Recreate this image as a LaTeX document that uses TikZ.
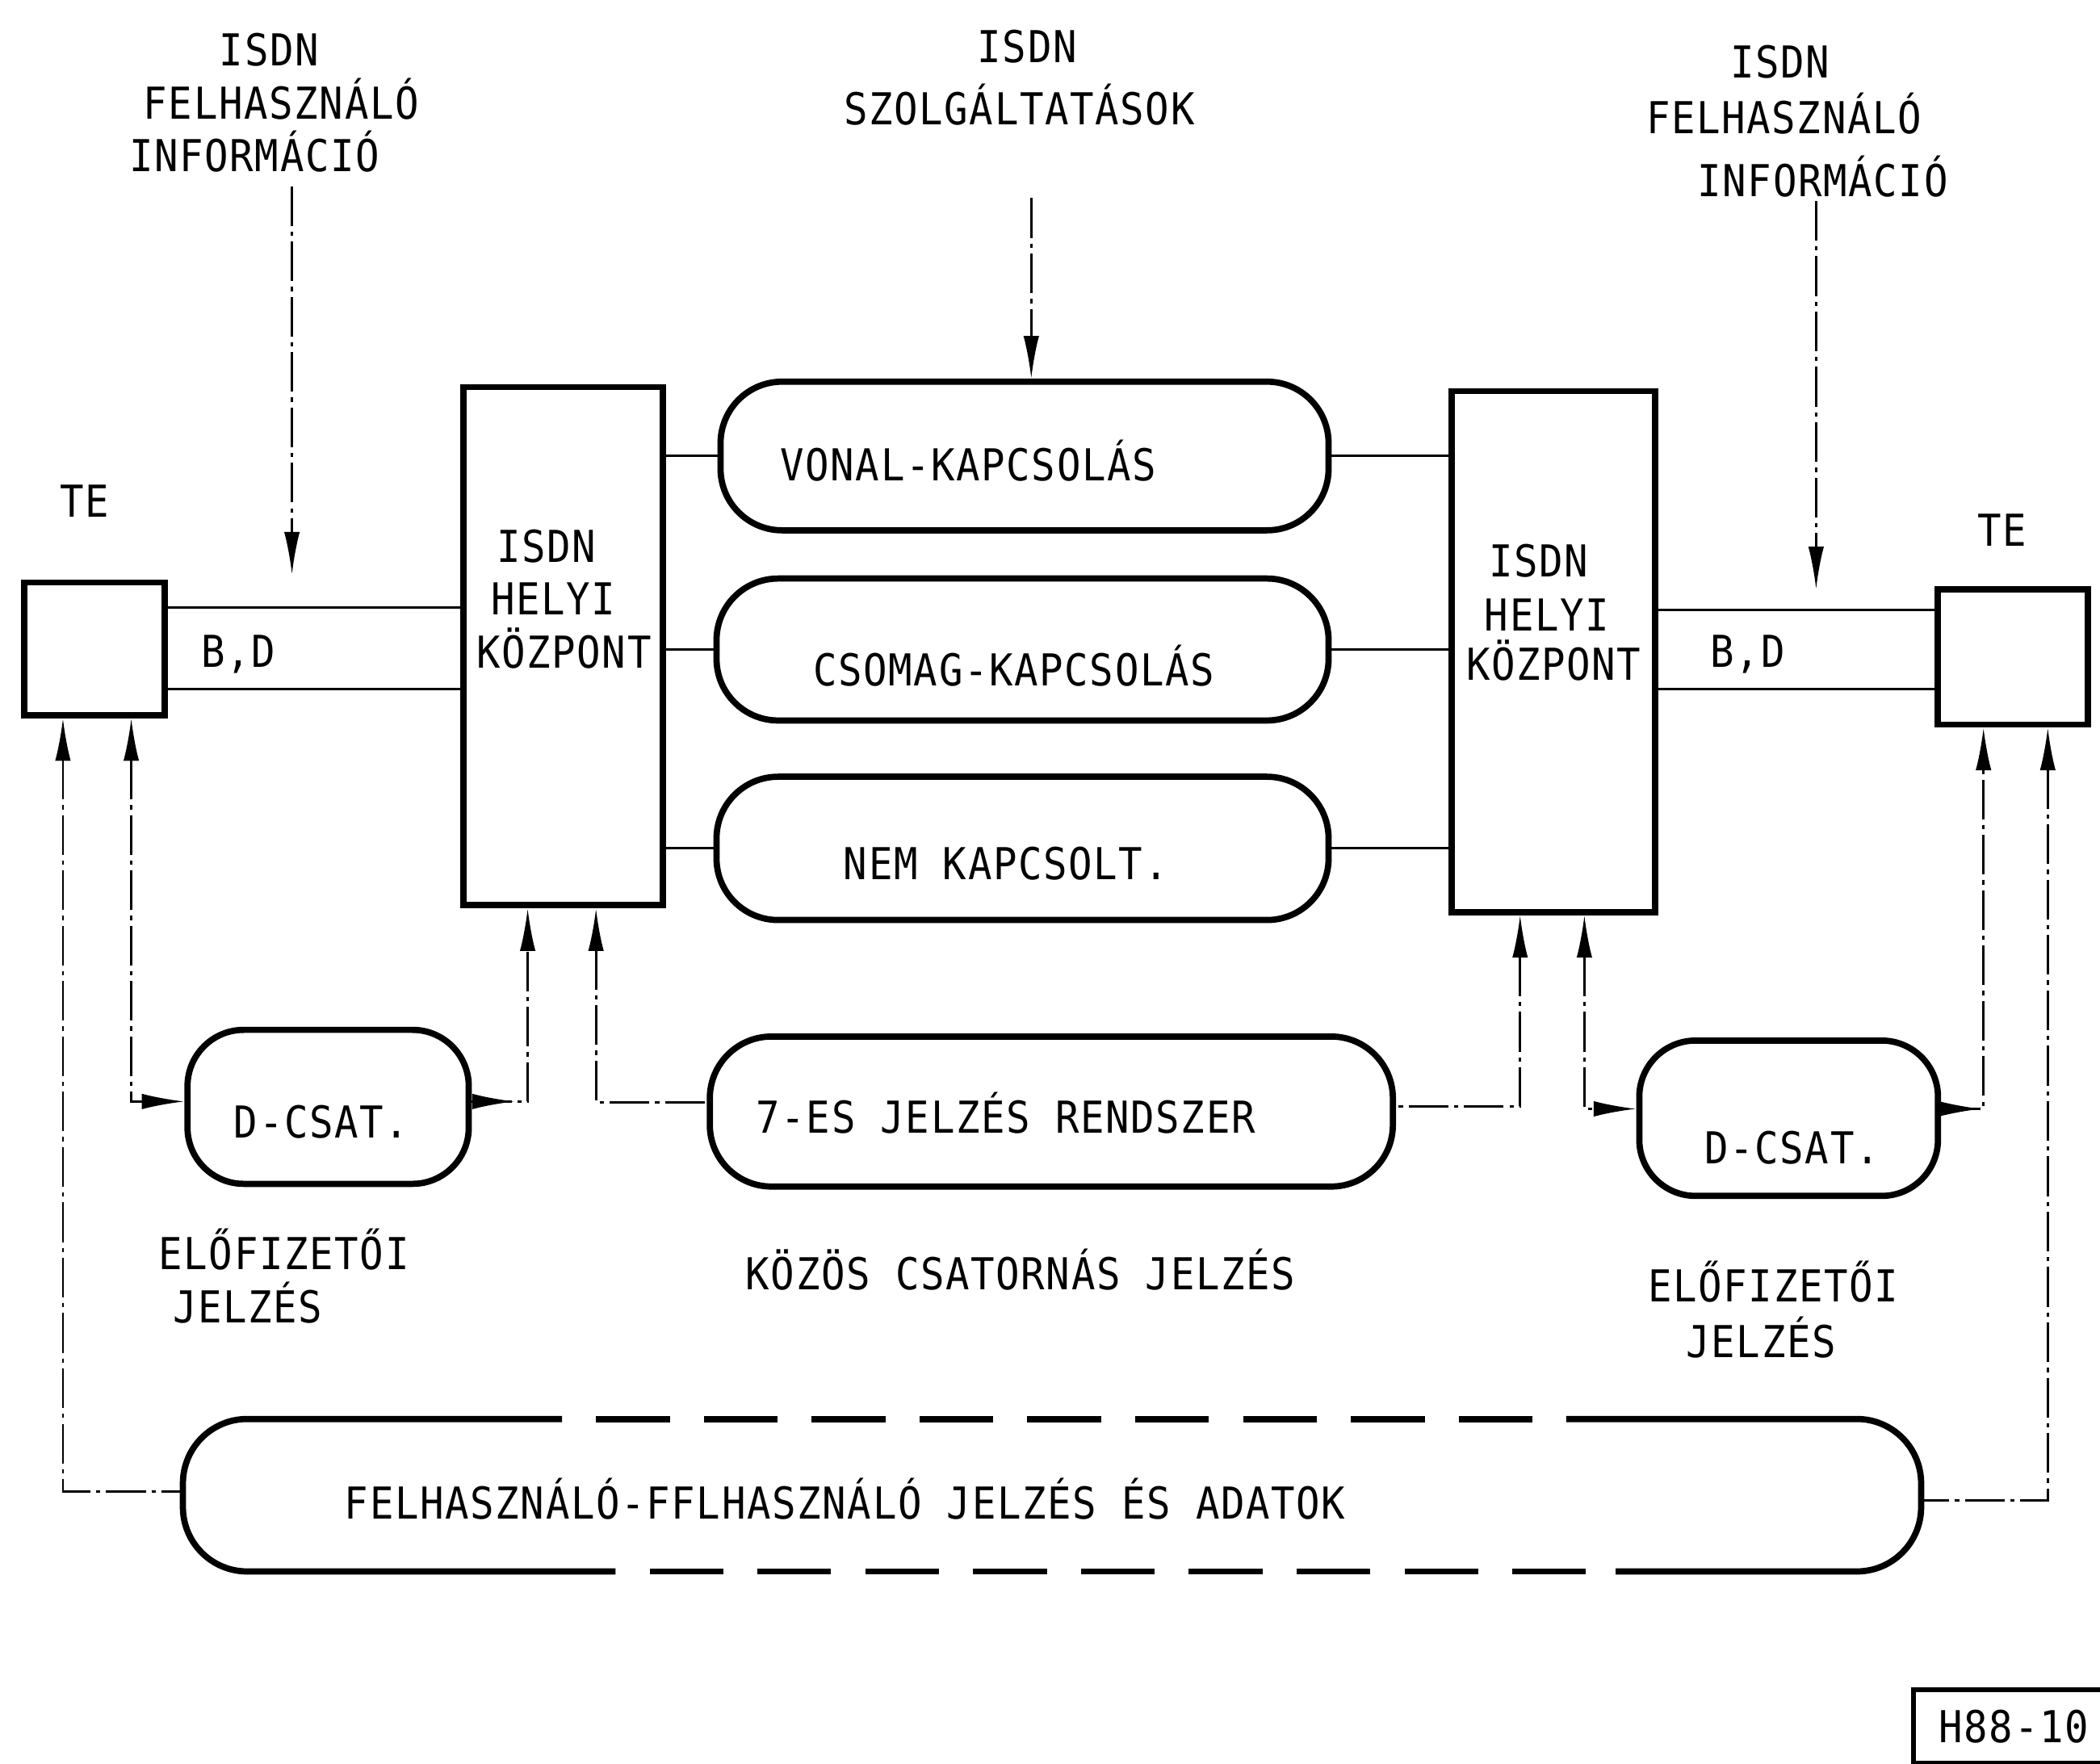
\documentclass[tikz,border=0pt]{standalone}
\usepackage{fontspec}
\newfontfamily\labfont[FakeStretch=0.9,LetterSpace=3]{DejaVu Sans Mono}
\usetikzlibrary{arrows.meta,decorations.markings}
\newlength\unitpx
\setlength\unitpx{0.016588cm}
\tikzset{
 myhead/.tip={Latex[length=15pt,width=5.5pt]},
 outl/.style={draw, line width=2.2pt},
 boxs/.style={outl, rectangle, inner sep=0pt},
 pills/.style={outl, rectangle, rounded corners=46\unitpx, inner sep=0pt},
 lab/.style={font=\labfont\fontsize{15.5pt}{15.5pt}\selectfont, inner sep=0pt, text height=11.3pt, text depth=0pt},
 sc/.style={line width=0.9pt},
 dc/.style={line width=0.8pt, dash pattern=on 14pt off 2pt on 1.5pt off 2pt},
 midhead/.style={postaction=decorate, decoration={markings, mark=at position #1 with {\arrow{myhead}}}},
 dashedge/.style={line width=2.2pt, dash pattern=on 26pt off 12pt, dash phase=26pt},
}
\begin{document}
\begin{tikzpicture}[x=0.016588cm, y=-0.016588cm]
\useasboundingbox (0,0) rectangle (1568,1317);
\fill[white] (0,0) rectangle (1568,1317);

% main shapes
\node[boxs, minimum width=105\unitpx, minimum height=99\unitpx] (teL) at (70.5,484.5) {};
\node[boxs, minimum width=112\unitpx, minimum height=101\unitpx] (teR) at (1503,490.5) {};
\node[boxs, minimum width=149\unitpx, minimum height=387\unitpx] (boxL) at (420.5,482.5) {};
\node[boxs, minimum width=152\unitpx, minimum height=389\unitpx] (boxR) at (1160,486.5) {};
\node[pills, minimum width=454\unitpx, minimum height=111\unitpx] (vonal) at (765,340.5) {};
\node[pills, minimum width=457\unitpx, minimum height=106\unitpx] (csomag) at (763.5,485) {};
\node[pills, minimum width=457\unitpx, minimum height=107\unitpx] (nem) at (763.5,633.5) {};
\node[pills, minimum width=510\unitpx, minimum height=112\unitpx] (hetes) at (785,830) {};
\node[pills, rounded corners=42\unitpx, minimum width=210\unitpx, minimum height=115\unitpx] (dcsL) at (245,826.5) {};
\node[pills, rounded corners=42\unitpx, minimum width=223\unitpx, minimum height=116\unitpx] (dcsR) at (1335.5,835) {};
\node[minimum width=1297\unitpx, minimum height=113\unitpx, inner sep=0pt] (felh) at (785.5,1116.5) {};
\node[lab, draw, line width=1.6pt, minimum width=150\unitpx, minimum height=55\unitpx, anchor=north west] (hcode) at (1427,1260) {H88-10};

% bottom pill outline (solid ends, dashed middle)
\coordinate (fTL) at ([xshift=283\unitpx]felh.north west);
\coordinate (fBL) at ([xshift=323\unitpx]felh.south west);
\coordinate (fTR) at ([xshift=-265\unitpx]felh.north east);
\coordinate (fBR) at ([xshift=-228\unitpx]felh.south east);
\draw[line width=2.2pt, rounded corners=48\unitpx] (fTL) -- (felh.north west) -- (felh.south west) -- (fBL);
\draw[line width=2.2pt, rounded corners=48\unitpx] (fTR) -- (felh.north east) -- (felh.south east) -- (fBR);
\draw[dashedge] (fTL) -- (fTR);
\draw[dashedge] (fBL) -- (fBR);

% texts
\node[lab] (tL1) at (201,37) {ISDN};
\node[lab] (tL2) at (210,77) {FELHASZNÁLÓ};
\node[lab] (tL3) at (190,116) {INFORMÁCIÓ};
\node[lab] (tM1) at (767,35) {ISDN};
\node[lab] (tM2) at (761,81) {SZOLGÁLTATÁSOK};
\node[lab] (tR1) at (1329,46) {ISDN};
\node[lab] (tR2) at (1332,88) {FELHASZNÁLÓ};
\node[lab] (tR3) at (1361,135) {INFORMÁCIÓ};
\node[lab] (teLt) at (63,374) {TE};
\node[lab] (teRt) at (1495,396) {TE};
\node[lab] (bdLt) at (178,486) {B,D};
\node[lab] (bdRt) at (1305,486) {B,D};
\node[lab] (bL1) at (408,408) {ISDN};
\node[lab] (bL2) at (413,447) {HELYI};
\node[lab] (bL3) at (421,487) {KÖZPONT};
\node[lab] (bR1) at (1149,419) {ISDN};
\node[lab] (bR2) at (1155,459) {HELYI};
\node[lab] (bR3) at (1160,496) {KÖZPONT};
\node[lab] (vonalt) at (723,347) {VONAL-KAPCSOLÁS};
\node[lab] (csomagt) at (757,500) {CSOMAG-KAPCSOLÁS};
\node[lab] (nemt) at (751,645) {NEM KAPCSOLT.};
\node[lab] (hetest) at (751,834) {7-ES JELZÉS RENDSZER};
\node[lab] (kozos) at (762,951) {KÖZÖS CSATORNÁS JELZÉS};
\node[lab] (dcsLt) at (240,838) {D-CSAT.};
\node[lab] (dcsRt) at (1338,857) {D-CSAT.};
\node[lab] (eloL1) at (212,936) {ELŐFIZETŐI};
\node[lab] (eloL2) at (185,976) {JELZÉS};
\node[lab] (eloR1) at (1324,960) {ELŐFIZETŐI};
\node[lab] (eloR2) at (1315,1002) {JELZÉS};
\node[lab] (felht) at (631,1122) {FELHASZNÁLÓ-FFLHASZNÁLÓ JELZÉS ÉS ADATOK};

% B,D lines
\coordinate (bdL1) at ([yshift=-21\unitpx]teL.north east);
\coordinate (bdL2) at ([yshift=22\unitpx]teL.south east);
\draw[sc] (bdL1) -- (bdL1 -| boxL.west);
\draw[sc] (bdL2) -- (bdL2 -| boxL.west);
\coordinate (bdR1) at ([yshift=-18\unitpx]teR.north west);
\coordinate (bdR2) at ([yshift=29\unitpx]teR.south west);
\draw[sc] (bdR1) -- (bdR1 -| boxR.east);
\draw[sc] (bdR2) -- (bdR2 -| boxR.east);

% pill connectors
\foreach \p in {vonal,csomag,nem} {
  \draw[sc] (\p.west) -- (\p.west -| boxL.east);
  \draw[sc] (\p.east) -- (\p.east -| boxR.west);
}

% top arrows
\coordinate (inL) at (218,139);
\coordinate (inLe) at (218,429);
\draw[dc, -myhead] (inL) -- (inLe);
\coordinate (inM) at (770,148);
\draw[dc, -myhead] (inM) -- (inM |- vonal.north);
\coordinate (inR) at (1356,150);
\coordinate (inRe) at (1356,440);
\draw[dc, -myhead] (inR) -- (inRe);

% bottom connectors
\coordinate (xA) at (47,0);
\coordinate (xB) at (98,0);
\coordinate (xC) at (394,0);
\coordinate (xD) at (445,0);
\coordinate (xE) at (1135,0);
\coordinate (xF) at (1183,0);
\coordinate (xG) at (1481,0);
\coordinate (xH) at (1529,0);
\draw[dc, myhead-myhead] (teL.south -| xB) |- ([yshift=4\unitpx]dcsL.west);
\draw[dc, -myhead, midhead=32\unitpx] ([yshift=4\unitpx]dcsL.east) -| (boxL.south -| xC);
\draw[dc, myhead-] (boxL.south -| xD) |- ([yshift=7\unitpx]hetes.west);
\draw[dc, myhead-] (boxR.south -| xE) |- ([yshift=4\unitpx]hetes.east);
\draw[dc, myhead-myhead] (boxR.south -| xF) |- ([yshift=7\unitpx]dcsR.west);
\draw[dc, -myhead, midhead=30\unitpx] ([yshift=7\unitpx]dcsR.east) -| (teR.south -| xG);
\draw[dc, myhead-] (teR.south -| xH) |- ([yshift=-4\unitpx]felh.east);
\draw[dc, myhead-] (teL.south -| xA) |- ([yshift=3\unitpx]felh.west);
\end{tikzpicture}
\end{document}
